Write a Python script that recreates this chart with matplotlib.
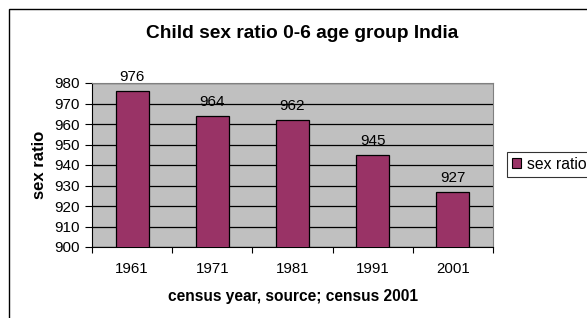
import matplotlib
matplotlib.use("Agg")
import matplotlib.pyplot as plt
from matplotlib.patches import Rectangle, Patch

years = ["1961", "1971", "1981", "1991", "2001"]
sex_ratio = [976, 964, 962, 945, 927]
y_ticks = [900, 910, 920, 930, 940, 950, 960, 970, 980]

plt.rcParams['font.family'] = ['Liberation Sans', 'DejaVu Sans']

W, H = 587, 318
fig = plt.figure(figsize=(W / 100, H / 100), dpi=100)
fig.patch.set_facecolor("white")

# outer chart border (clipped at right/bottom)
border = Rectangle((9 / W, -0.1), 1.2, 1 - 9 / H + 0.1, transform=fig.transFigure,
                   fill=False, edgecolor="black", linewidth=1.0, clip_on=False)
fig.patches.append(border)

ax = fig.add_axes([92 / W, (H - 247) / H, 401 / W, 164 / H])
ax.set_facecolor("#C0C0C0")

x = list(range(len(years)))
bars = ax.bar(x, sex_ratio, width=0.41, color="#993366", edgecolor="black",
              linewidth=0.9, zorder=3)

ax.set_xlim(-0.5, len(years) - 0.5)
ax.set_ylim(900, 980)
ax.set_yticks(y_ticks)
ax.set_yticklabels([str(t) for t in y_ticks], fontsize=11)
ax.set_xticks([i - 0.5 for i in range(len(years) + 1)], minor=False)
ax.set_xticklabels([""] * (len(years) + 1))
ax.set_xticks(x, minor=True)
ax.set_xticklabels(years, minor=True, fontsize=10.8)
ax.tick_params(axis="x", which="minor", length=0, pad=11)
ax.tick_params(axis="x", which="major", length=4, direction="out", width=0.8)
ax.tick_params(axis="y", length=5, direction="out", width=0.8, pad=4)

ax.yaxis.grid(True, color="black", linewidth=0.9, zorder=1)
ax.set_axisbelow(True)
for s in ["top", "right"]:
    ax.spines[s].set_color("#808080")
    ax.spines[s].set_linewidth(0.8)
for s in ["left", "bottom"]:
    ax.spines[s].set_color("black")
    ax.spines[s].set_linewidth(0.8)

for xi, v in zip(x, sex_ratio):
    ax.annotate(str(v), (xi, v), xytext=(0, 5), textcoords="offset points",
                ha="center", va="bottom", fontsize=11, annotation_clip=False)

ax.set_ylabel("sex ratio", fontsize=12, fontweight="bold", labelpad=5)
ax.set_xlabel("census year, source; census 2001", fontsize=11.2, fontweight="bold",
              labelpad=9)

fig.text(302 / W, 1 - 33 / H, "Child sex ratio 0-6 age group India",
         ha="center", va="center", fontsize=13.8, fontweight="bold")

leg = fig.legend(handles=[Patch(facecolor="#993366", edgecolor="black", linewidth=0.8,
                                label="sex ratio")],
                 loc="center left", bbox_to_anchor=(507 / W, 1 - 164.5 / H),
                 fontsize=11.3, frameon=True, fancybox=False, handlelength=0.6,
                 handleheight=0.6, handletextpad=0.35, borderpad=0.3,
                 borderaxespad=0)
leg.get_frame().set_edgecolor("black")
leg.get_frame().set_linewidth(0.8)

fig.savefig("out.png", dpi=100)
